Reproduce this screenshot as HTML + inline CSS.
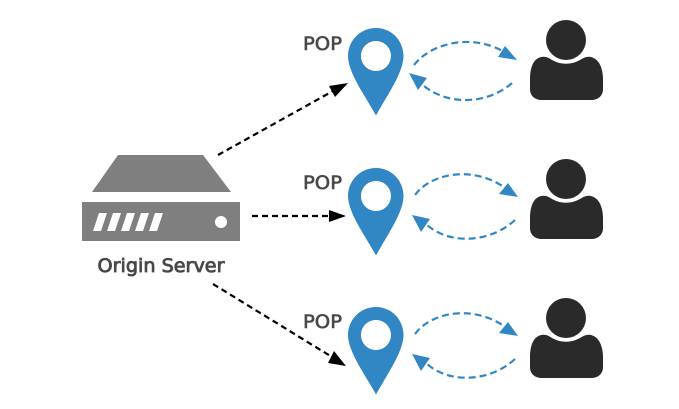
<!DOCTYPE html>
<html>
<head>
<meta charset="utf-8">
<style>
html,body{margin:0;padding:0;background:#fff;width:679px;height:409px;overflow:hidden}
svg{display:block}
text{font-family:"DejaVu Sans","Liberation Sans",sans-serif;font-size:19px;fill:#484848;stroke:#484848;stroke-width:.6px}
text.b{stroke-width:.85px}
</style>
</head>
<body>
<svg width="679" height="409" viewBox="0 0 679 409" xmlns="http://www.w3.org/2000/svg">
<defs>
<g id="pin">
<path fill-rule="evenodd" fill="#3187c4" d="M376 28C360 28 348 41 348 56C348 73 366 97 376 115.500C386 97 403.500 73 403.500 56C403.500 41 392 28 376 28ZM376 41A15 15 0 1 1 375.900 41Z"/>
</g>
<g id="person" fill="#2a2a2a">
<circle cx="566" cy="40" r="20"/>
<path d="M541 57C546 56 549 58 552 60C561 65 571 65 580 60C583 58 587 56 591 57C599 59 603 68 603 80V89C603 96 598 100 591 100H542C535 100 530 96 530 89V80C530 68 533 59 541 57Z"/>
</g>
<g id="link1">
<path d="M414 65C432 42 474 33 506 53" fill="none" stroke="#3187c4" stroke-width="2.200" stroke-dasharray="7 4"/>
<path d="M517 60L505 46L498 57Z" fill="#3187c4"/>
<path d="M512 83C490 103 450 107 424 86" fill="none" stroke="#3187c4" stroke-width="2.200" stroke-dasharray="7 4"/>
<path d="M409 73L427 78L418 90Z" fill="#3187c4"/>
</g>
<g id="link2">
<path d="M415 195C432 172 476 165 508 190" fill="none" stroke="#3187c4" stroke-width="2.200" stroke-dasharray="7 4"/>
<path d="M518 197L508 183L499 194Z" fill="#3187c4"/>
<path d="M515 220C490 243 450 245 427 225" fill="none" stroke="#3187c4" stroke-width="2.200" stroke-dasharray="7 4"/>
<path d="M412 215L430 219L421 232Z" fill="#3187c4"/>
</g>
</defs>

<!-- server -->
<path d="M118 155H203L231 192H92Z" fill="#7f7f7f"/>
<rect x="82" y="202" width="158" height="39" fill="#7f7f7f"/>
<g fill="#fff">
<path d="M99 213H107L101 231H93Z"/>
<path d="M113 213H121L115 231H107Z"/>
<path d="M127 213H135L129 231H121Z"/>
<path d="M141 213H149L143 231H135Z"/>
<path d="M155 213H163L157 231H149Z"/>
</g>
<circle cx="221" cy="222" r="6" fill="#fff"/>
<text class="b" x="97.500" y="272" textLength="127" lengthAdjust="spacingAndGlyphs">Origin Server</text>

<!-- black arrows -->
<g fill="none" stroke="#000" stroke-width="2.200" stroke-dasharray="6 4">
<path d="M218 155L333 91"/>
<path d="M252 216H330"/>
<path d="M213 284L332 357"/>
</g>
<path d="M348 83L329 86L335 97Z" fill="#000"/>
<path d="M346 216L329 210V222Z" fill="#000"/>
<path d="M346 366L334 351L328 363Z" fill="#000"/>

<!-- POP row 1 -->
<text x="303" y="50" textLength="39" lengthAdjust="spacingAndGlyphs">POP</text>
<use href="#pin"/>
<use href="#link1"/>
<use href="#person"/>

<!-- POP row 2 -->
<text x="303" y="189" textLength="39" lengthAdjust="spacingAndGlyphs">POP</text>
<use href="#pin" y="140"/>
<use href="#link2"/>
<use href="#person" y="139"/>

<!-- POP row 3 -->
<text x="303" y="328" textLength="39" lengthAdjust="spacingAndGlyphs">POP</text>
<use href="#pin" y="279"/>
<use href="#link2" y="139"/>
<use href="#person" y="278"/>
</svg>
</body>
</html>
